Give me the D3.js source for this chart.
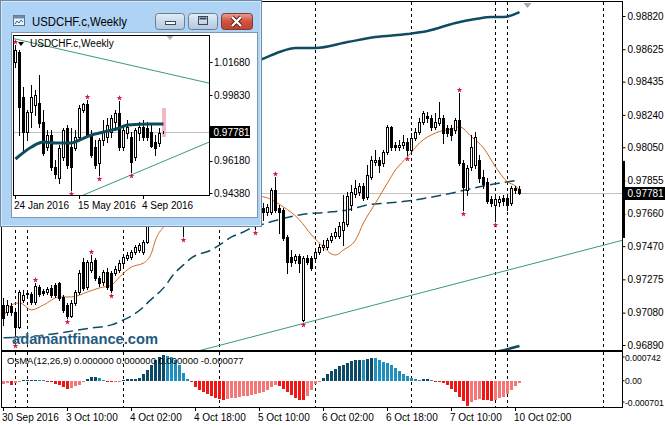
<!DOCTYPE html>
<html>
<head>
<meta charset="utf-8">
<script src="https://cdn.jsdelivr.net/npm/d3@7/dist/d3.min.js"></script>
<style>
html,body{margin:0;padding:0;background:#fff;}
svg{display:block;}
text{font-family:"Liberation Sans",Arial,sans-serif;}
</style>
</head>
<body>
<svg id="chart" width="665" height="425"></svg>
<script>
// ================= DATA : USDCHF.c H1 =================
const opens = [0.97125,0.97084,0.97119,0.97084,0.96996,0.97154,0.97190,0.97190,0.97143,0.97231,
0.97207,0.97201,0.97225,0.97242,0.97254,0.97172,0.97125,0.97061,0.97137,0.97201,
0.97377,0.97231,0.97330,0.97389,0.97283,0.97260,0.97319,0.97313,0.97313,0.97330,
0.97371,0.97401,0.97407,0.97436,0.97448,0.97436,0.97495,0.97624,0.97712,0.97770,
0.97741,0.97811,0.97858,0.97823,0.97741,0.97653,0.97712,0.97765,0.97800,0.97759,
0.97829,0.97870,0.97823,0.97770,0.97800,0.97847,0.97788,0.97741,0.97765,0.97712,
0.97671,0.97706,0.97659,0.97624,0.97671,0.97694,0.97671,0.97671,0.97800,0.97694,
0.97682,0.97524,0.97407,0.97389,0.97412,0.97037,0.97401,0.97401,0.97401,0.97436,
0.97465,0.97465,0.97506,0.97530,0.97530,0.97565,0.97600,0.97712,0.97776,0.97788,
0.97823,0.97759,0.97876,0.97964,0.97976,0.97958,0.98023,0.98169,0.98064,0.98052,
0.98064,0.98081,0.98034,0.98105,0.98140,0.98199,0.98234,0.98222,0.98169,0.98193,
0.98222,0.98163,0.98163,0.98152,0.98210,0.97958,0.97800,0.97935,0.97946,0.97976,
0.97876,0.97847,0.97747,0.97712,0.97729,0.97753,0.97753,0.97723,0.97811,0.97806];
const highs = [0.97166,0.97154,0.97137,0.97096,0.97213,0.97213,0.97213,0.97201,0.97254,0.97242,
0.97219,0.97231,0.97242,0.97254,0.97260,0.97184,0.97137,0.97154,0.97213,0.97330,
0.97401,0.97389,0.97418,0.97401,0.97295,0.97330,0.97342,0.97325,0.97354,0.97389,
0.97418,0.97436,0.97448,0.97477,0.97489,0.97506,0.97653,0.97741,0.97800,0.97811,
0.97829,0.97882,0.97888,0.97841,0.97753,0.97723,0.97776,0.97823,0.97829,0.97847,
0.97905,0.97888,0.97841,0.97823,0.97858,0.97864,0.97806,0.97782,0.97782,0.97729,
0.97723,0.97723,0.97682,0.97694,0.97718,0.97723,0.97718,0.97811,0.97876,0.97712,
0.97694,0.97536,0.97448,0.97424,0.97424,0.97412,0.97418,0.97412,0.97448,0.97483,
0.97506,0.97518,0.97547,0.97577,0.97612,0.97770,0.97788,0.97829,0.97858,0.97841,
0.97841,0.97946,0.97999,0.98034,0.97993,0.98034,0.98181,0.98175,0.98081,0.98093,
0.98122,0.98105,0.98134,0.98163,0.98222,0.98263,0.98257,0.98240,0.98251,0.98316,
0.98240,0.98181,0.98181,0.98222,0.98369,0.97976,0.97946,0.98122,0.98140,0.98005,
0.97917,0.97870,0.97765,0.97765,0.97765,0.97770,0.97765,0.97823,0.97823,0.97823];
const lows = [0.97008,0.97066,0.97066,0.96908,0.96990,0.97143,0.97172,0.97131,0.97131,0.97178,
0.97184,0.97190,0.97172,0.97172,0.97154,0.97084,0.97049,0.97055,0.97125,0.97190,
0.97213,0.97219,0.97319,0.97272,0.97236,0.97242,0.97219,0.97201,0.97301,0.97319,
0.97360,0.97389,0.97395,0.97424,0.97436,0.97424,0.97489,0.97612,0.97694,0.97723,
0.97729,0.97800,0.97800,0.97723,0.97624,0.97530,0.97694,0.97741,0.97747,0.97747,
0.97811,0.97800,0.97759,0.97753,0.97782,0.97770,0.97723,0.97718,0.97694,0.97653,
0.97647,0.97635,0.97606,0.97571,0.97659,0.97624,0.97653,0.97659,0.97671,0.97547,
0.97506,0.97313,0.97354,0.97371,0.97319,0.97031,0.97366,0.97330,0.97377,0.97424,
0.97448,0.97454,0.97495,0.97518,0.97518,0.97477,0.97588,0.97682,0.97759,0.97770,
0.97741,0.97747,0.97864,0.97946,0.97905,0.97940,0.98011,0.98034,0.98034,0.98034,
0.98046,0.98005,0.98023,0.98093,0.98128,0.98187,0.98199,0.98152,0.98158,0.98181,
0.98075,0.98116,0.98093,0.98134,0.97946,0.97682,0.97770,0.97917,0.97929,0.97847,
0.97811,0.97723,0.97706,0.97618,0.97706,0.97712,0.97682,0.97712,0.97782,0.97776];
const closes = [0.97049,0.97125,0.97084,0.96996,0.97201,0.97184,0.97195,0.97143,0.97236,0.97190,
0.97195,0.97219,0.97184,0.97184,0.97166,0.97096,0.97061,0.97137,0.97201,0.97313,
0.97225,0.97377,0.97377,0.97283,0.97254,0.97319,0.97231,0.97213,0.97336,0.97371,
0.97407,0.97418,0.97436,0.97465,0.97477,0.97495,0.97624,0.97712,0.97770,0.97741,
0.97811,0.97858,0.97823,0.97741,0.97653,0.97712,0.97765,0.97800,0.97759,0.97829,
0.97870,0.97823,0.97770,0.97800,0.97847,0.97788,0.97741,0.97765,0.97712,0.97671,
0.97706,0.97659,0.97624,0.97671,0.97694,0.97671,0.97700,0.97800,0.97682,0.97671,
0.97518,0.97377,0.97377,0.97412,0.97371,0.97401,0.97377,0.97342,0.97436,0.97465,
0.97477,0.97506,0.97530,0.97553,0.97588,0.97612,0.97765,0.97788,0.97811,0.97823,
0.97753,0.97888,0.97976,0.97976,0.97946,0.98023,0.98169,0.98052,0.98052,0.98064,
0.98081,0.98034,0.98105,0.98140,0.98199,0.98251,0.98222,0.98169,0.98199,0.98222,
0.98134,0.98134,0.98122,0.98210,0.97958,0.97817,0.97929,0.98052,0.98111,0.97870,
0.97835,0.97735,0.97723,0.97747,0.97747,0.97735,0.97712,0.97811,0.97800,0.97781];
const fractalsUp = [8,22,68,114];
const fractalsDown = [3,16,27,45,63,75,101,115,123];
// moving averages as [bar, price]
const maSlow = [[0,0.96932],[8,0.96943],[22,0.96990],[27,0.97008],[30,0.97037],[32,0.97061],[35,0.97113],[36,0.97137],[41,0.97254],[42,0.97289],[45,0.97360],[47,0.97401],[52,0.97448],[54,0.97477],[57,0.97524],[60,0.97553],[62,0.97577],[65,0.97600],[68,0.97620],[74,0.97653],[82,0.97671],[86,0.97682],[91,0.97712],[96,0.97723],[101,0.97735],[111,0.97776],[120,0.97823],[129,0.97858]];
const maFast = [[0,0.97055],[2,0.97125],[4,0.97137],[7,0.97096],[10,0.97125],[14,0.97172],[17,0.97172],[21,0.97201],[24,0.97225],[27,0.97242],[29,0.97289],[32,0.97348],[35,0.97371],[37,0.97430],[38,0.97506],[40,0.97583],[44,0.97682],[48,0.97729],[55,0.97753],[60,0.97765],[65,0.97759],[68,0.97729],[70,0.97700],[74,0.97624],[77,0.97536],[80,0.97465],[82,0.97424],[83,0.97418],[85,0.97448],[88,0.97506],[90,0.97606],[93,0.97723],[96,0.97841],[98,0.97917],[101,0.97993],[104,0.98075],[108,0.98134],[112,0.98158],[114,0.98169],[117,0.98111],[120,0.98046],[123,0.97935],[126,0.97847],[128,0.97823],[129,0.97800]];
const envelopeUpper = [[40,0.98480],[50,0.98520],[64,0.98562],[69,0.98609],[73,0.98632],[78,0.98632],[86,0.98667],[93,0.98697],[101,0.98714],[106,0.98732],[113,0.98779],[118,0.98802],[122,0.98814],[125,0.98814],[129,0.98843]];
const envelopeLower = [[115,0.96820],[125,0.96860],[129,0.96884]];
const trendLine = [[64,0.96949],[155,0.97506]];
const osma = [-0.000090,-0.000072,-0.000135,-0.000063,-0.000045,0.000009,0.000018,0.000027,0.000032,0.000018,
0.000009,-0.000018,-0.000045,-0.000090,-0.000135,-0.000180,-0.000225,-0.000198,-0.000162,-0.000108,
-0.000045,0.000045,0.000108,0.000117,0.000072,0.000027,-0.000018,-0.000036,-0.000027,-0.000009,
0.000018,0.000036,0.000045,0.000054,0.000090,0.000180,0.000315,0.000450,0.000585,0.000675,
0.000742,0.000711,0.000675,0.000585,0.000450,0.000225,0.000045,-0.000045,-0.000180,-0.000252,
-0.000315,-0.000378,-0.000432,-0.000495,-0.000522,-0.000540,-0.000522,-0.000500,-0.000480,-0.000460,
-0.000440,-0.000420,-0.000400,-0.000380,-0.000360,-0.000315,-0.000252,-0.000180,-0.000135,-0.000153,
-0.000225,-0.000315,-0.000405,-0.000495,-0.000540,-0.000558,-0.000432,-0.000270,-0.000090,-0.000027,
0.000090,0.000180,0.000270,0.000342,0.000405,0.000450,0.000495,0.000558,0.000585,0.000594,
0.000576,0.000612,0.000648,0.000630,0.000585,0.000540,0.000495,0.000432,0.000360,0.000270,
0.000198,0.000135,0.000072,0.000045,0.000027,0.000036,0.000054,0.000018,-0.000018,-0.000027,
-0.000072,-0.000135,-0.000225,-0.000315,-0.000450,-0.000585,-0.000701,-0.000612,-0.000558,-0.000522,
-0.000540,-0.000558,-0.000576,-0.000540,-0.000495,-0.000450,-0.000378,-0.000270,-0.000162,-0.000072];
const separators = [3,6,30,54,78,102,123,126,150];
const timeLabelBars = [0,16,32,48,64,80,96,112,128];
const timeLabels = ["30 Sep 2016","3 Oct 10:00","4 Oct 02:00","4 Oct 18:00","5 Oct 10:00","6 Oct 02:00","6 Oct 18:00","7 Oct 10:00","10 Oct 02:00"];
const priceTicks = [0.98820,0.98625,0.98435,0.98240,0.98050,0.97855,0.97660,0.97470,0.97275,0.97080,0.96890];
const lastPrice = 0.97781;
const lastBarRange = [0.97970,0.97518];
const osmaTicks = [0.000742,0,-0.000701];
const osmaTickLabels = ["0.000742","0.00","-0.000701"];
const osmaTitle = "OsMA(12,26,9) 0.000000 0.000000 0.000000 -0.000077";
const watermark = "adamantfinance.com";

// ================= DATA : weekly inset =================
const wTitle = "USDCHF.c,Weekly";
const wOpens = [1.01680,1.02237,0.99730,0.97779,0.98893,0.99284,0.99395,0.98336,0.96943,0.97612,0.95829,0.95216,0.96386,0.98002,0.96943,0.96888,0.97501,0.99005,0.99340,0.97612,0.96943,0.96052,0.97333,0.97501,0.97779,0.98336,0.98838,0.96943,0.97723,0.97501,0.96386,0.97723,0.98058,0.98002,0.97779,0.97222,0.97166,0.97800];
const wHighs = [1.02627,1.02349,1.00287,0.99005,1.00398,1.00120,1.00956,0.99005,0.97891,0.97891,0.96219,0.97055,0.98002,0.98169,0.98002,0.97891,0.99284,0.99395,0.99562,0.97891,0.97333,0.97445,0.98448,0.98559,0.98727,0.99005,0.99507,0.98169,0.98448,0.97779,0.98002,0.98336,0.98448,0.98336,0.98225,0.97612,0.98002,0.97850];
const wLows = [1.01401,0.97612,0.96776,0.97333,0.98058,0.98727,0.98058,0.96498,0.96776,0.95662,0.95216,0.94937,0.96219,0.95773,0.94547,0.96776,0.97333,0.98893,0.97501,0.96386,0.95773,0.95383,0.97055,0.97222,0.97501,0.97891,0.96776,0.96776,0.97445,0.95550,0.96219,0.97333,0.97333,0.97333,0.96943,0.96498,0.96999,0.97740];
const wCloses = [1.02349,0.99172,0.97779,0.98893,0.99730,0.99841,0.98281,0.96609,0.97612,0.95829,0.95439,0.96888,0.97891,0.95940,0.95829,0.97501,0.99117,0.99340,0.97612,0.96498,0.95940,0.97333,0.97779,0.98169,0.98559,0.98838,0.96943,0.97891,0.98058,0.96107,0.97891,0.98058,0.97501,0.97501,0.96999,0.96888,0.97723,0.97781];
const wMA = [[0,0.96275],[4,0.96943],[7,0.97222],[10,0.97166],[14,0.97166],[16,0.97333],[19,0.97612],[22,0.97779],[26,0.98002],[28,0.98169],[34,0.98225],[37,0.98225]];
const wTrendUpper = [[0,1.02962],[48,1.00521]];
const wTrendLower = [[17,0.94268],[48,0.97180]];
const wFractalsUp = [0,18,26];
const wFractalsDown = [14,21,29];
const wPriceTicks = [1.01680,0.99830,0.96180,0.94380];
const wDateBars = [0,16,32];
const wDateLabels = ["24 Jan 2016","15 May 2016","4 Sep 2016"];
const wRangeBox = [0.99117,0.97501];
const wLastPrice = 0.97781;

// ================= DRAWING =================
const svg = d3.select("#chart");
svg.append("rect").attr("width",665).attr("height",425).attr("fill","#fff");
const defs = svg.append("defs");
defs.append("clipPath").attr("id","mainClip").append("rect").attr("x",2).attr("y",2).attr("width",620).attr("height",348);
defs.append("clipPath").attr("id","insetClip").append("rect").attr("x",14).attr("y",36).attr("width",195).attr("height",159);

const x = d3.scaleLinear().domain([0,150]).range([3.5,603.5]);
const y = d3.scaleLinear().domain([0.96890,0.98820]).range([345,16]);
const yo = d3.scaleLinear().domain([-0.000701,0.000742]).range([405.5,354.5]);
const idx = d3.range(opens.length);

const BLUE = "#0f4c63", ORANGE = "#d2691e", GREEN = "#3a9d6e", FRACT = "#d4144a";

function drawCandles(g, xs, ys, O, H, L, C){
  const ii = d3.range(O.length);
  g.selectAll(null).data(ii).join("line")
    .attr("x1",i=>xs(i)).attr("x2",i=>xs(i))
    .attr("y1",i=>Math.round(ys(H[i]))).attr("y2",i=>Math.round(ys(L[i]))+1)
    .attr("stroke","#000").attr("stroke-width",1);
  g.selectAll(null).data(ii).join("rect")
    .attr("x",i=>xs(i)-1)
    .attr("y",i=>Math.round(ys(Math.max(O[i],C[i])))+0.5)
    .attr("width",2)
    .attr("height",i=>Math.max(0,Math.round(ys(Math.min(O[i],C[i])))-Math.round(ys(Math.max(O[i],C[i])))))
    .attr("fill",i=>C[i]>=O[i]?"#fff":"#000")
    .attr("stroke","#000").attr("stroke-width",1);
}
function drawFractals(g, xs, ys, up, down, H, L){
  const sym = d3.symbol().type(d3.symbolStar).size(10);
  g.selectAll(null).data(up).join("path").attr("d",sym)
    .attr("transform",i=>`translate(${xs(i)},${Math.round(ys(H[i]))-3})`).attr("fill",FRACT);
  g.selectAll(null).data(down).join("path").attr("d",sym)
    .attr("transform",i=>`translate(${xs(i)},${Math.round(ys(L[i]))+4})`).attr("fill",FRACT);
}
function extend(pts, a, b){
  const [i0,p0]=pts[0],[i1,p1]=pts[1];
  const f=i=>p0+(p1-p0)*(i-i0)/(i1-i0);
  return [[a,f(a)],[b,f(b)]];
}

// ---- main price panel ----
const gm = svg.append("g").attr("clip-path","url(#mainClip)");
gm.selectAll(null).data(separators).join("line")
  .attr("x1",d=>x(d)).attr("x2",d=>x(d)).attr("y1",2).attr("y2",350)
  .attr("stroke","#000").attr("stroke-dasharray","3,3");
gm.append("line").attr("x1",2).attr("x2",622)
  .attr("y1",Math.round(y(lastPrice))+0.5).attr("y2",Math.round(y(lastPrice))+0.5)
  .attr("stroke","#c0c0c0");
const lineGen = d3.line().x(d=>x(d[0])).y(d=>y(d[1]));
gm.append("path").attr("d",lineGen(extend(trendLine,-10,160))).attr("fill","none").attr("stroke",GREEN).attr("stroke-width",1);
const curveGen = d3.line().x(d=>x(d[0])).y(d=>y(d[1])).curve(d3.curveMonotoneX);
gm.append("path").attr("d",curveGen(envelopeUpper)).attr("fill","none").attr("stroke",BLUE).attr("stroke-width",2.5);
gm.append("path").attr("d",curveGen(envelopeLower)).attr("fill","none").attr("stroke",BLUE).attr("stroke-width",2.5);
gm.append("path").attr("d",curveGen(maSlow)).attr("fill","none").attr("stroke",BLUE).attr("stroke-width",1.5).attr("stroke-dasharray","10,5");
gm.append("path").attr("d",curveGen(maFast)).attr("fill","none").attr("stroke",ORANGE).attr("stroke-width",1);
drawCandles(gm, x, y, opens, highs, lows, closes);
drawFractals(gm, x, y, fractalsUp, fractalsDown, highs, lows);
gm.append("path").attr("d",`M${x(130)},3 L${x(130)+8},3 L${x(130)+4},8 Z`).attr("fill","#a9a9a9");
svg.append("text").attr("x",12).attr("y",344).text(watermark)
  .attr("font-size",15).attr("font-weight","bold").attr("fill","#1f5a80")
  .attr("stroke","#ffffff").attr("stroke-width",0.6).attr("paint-order","stroke")
  .attr("textLength",146).attr("lengthAdjust","spacingAndGlyphs");
svg.append("rect").attr("x",1.5).attr("y",1.5).attr("width",621).attr("height",349).attr("fill","none").attr("stroke","#000");

const ay = svg.append("g").attr("transform","translate(622.5,0)")
  .call(d3.axisRight(y).tickValues(priceTicks).tickFormat(d3.format(".5f")).tickSize(3).tickPadding(2));
ay.select(".domain").remove();
ay.selectAll("text").attr("font-size",10).attr("fill","#000").attr("font-family","'Liberation Sans',Arial,sans-serif");
ay.selectAll("line").attr("stroke","#000");
svg.append("rect").attr("x",622).attr("width",3)
  .attr("y",y(lastBarRange[0])).attr("height",y(lastBarRange[1])-y(lastBarRange[0])).attr("fill","#000");
const ly = Math.round(y(lastPrice));
svg.append("rect").attr("x",623).attr("y",ly-6).attr("width",42).attr("height",13).attr("fill","#000");
svg.append("text").attr("x",627.5).attr("y",ly+4).text(d3.format(".5f")(lastPrice)).attr("font-size",10).attr("fill","#fff");

// ---- OsMA panel ----
const go = svg.append("g");
go.selectAll(null).data(separators).join("line")
  .attr("x1",d=>x(d)).attr("x2",d=>x(d)).attr("y1",352).attr("y2",407)
  .attr("stroke","#000").attr("stroke-dasharray","3,3");
const oColor = (v,i)=>{
  const prev = i>0 ? osma[i-1] : v;
  if (v>=0) return v>=prev ? "#0d4a68" : "#1f8fbe";
  return v<prev ? "#f01616" : "#f47676";
};
go.selectAll(null).data(idx).join("rect")
  .attr("x",i=>x(i)-1.5).attr("width",3)
  .attr("y",i=>Math.round(yo(Math.max(0,osma[i]))))
  .attr("height",i=>Math.max(1,Math.round(yo(Math.min(0,osma[i])))-Math.round(yo(Math.max(0,osma[i])))))
  .attr("fill",i=>oColor(osma[i],i));
go.append("text").attr("x",7).attr("y",364).text(osmaTitle).attr("font-size",9.5).attr("fill","#000");
svg.append("rect").attr("x",1.5).attr("y",351.5).attr("width",621).attr("height",56).attr("fill","none").attr("stroke","#000");
svg.selectAll(null).data(osmaTicks).join("line")
  .attr("x1",622.5).attr("x2",624.5)
  .attr("y1",d=>Math.min(402,Math.max(357,yo(d)))).attr("y2",d=>Math.min(402,Math.max(357,yo(d))))
  .attr("stroke","#000");
svg.selectAll(null).data(osmaTicks).join("text")
  .attr("x",625).attr("y",d=>Math.min(402,Math.max(357,yo(d)))+3.5)
  .text((d,i)=>osmaTickLabels[i]).attr("font-size",8.6).attr("fill","#000");

// ---- time axis ----
svg.selectAll(null).data(timeLabelBars).join("line")
  .attr("x1",d=>x(d)).attr("x2",d=>x(d)).attr("y1",407.5).attr("y2",411)
  .attr("stroke","#000");
svg.selectAll(null).data(timeLabelBars).join("text")
  .attr("x",d=>x(d)-1.5).attr("y",421).text((d,i)=>timeLabels[i])
  .attr("font-size",10).attr("fill","#000");

// ================= INSET WINDOW =================
const gi = svg.append("g");
gi.append("rect").attr("x",0.5).attr("y",0.5).attr("width",261).attr("height",226)
  .attr("fill","#aed3f4").attr("stroke","#6f8aa6");
gi.append("rect").attr("x",1.5).attr("y",1.5).attr("width",259).attr("height",224)
  .attr("fill","none").attr("stroke","#d4e8fb");
gi.append("rect").attr("x",13.5).attr("y",15.5).attr("width",11).attr("height",10).attr("fill","#e8eef5").attr("stroke","#5b6f86");
gi.append("rect").attr("x",13.5).attr("y",15.5).attr("width",11).attr("height",3).attr("fill","#6f89a6");
gi.append("path").attr("d","M15,24 L17,21 L19,23 L21,20 L23,22").attr("fill","none").attr("stroke","#2a6f9e");
gi.append("text").attr("x",32).attr("y",26).text(wTitle).attr("font-size",12.5)
  .attr("font-family","'Open Sans','Noto Sans',sans-serif").attr("fill","#000")
  .attr("textLength",95).attr("lengthAdjust","spacingAndGlyphs");
const btnGrad = defs.append("linearGradient").attr("id","btnG").attr("x1",0).attr("x2",0).attr("y1",0).attr("y2",1);
btnGrad.append("stop").attr("offset","0").attr("stop-color","#e4edf6");
btnGrad.append("stop").attr("offset","0.5").attr("stop-color","#c9d9ea");
btnGrad.append("stop").attr("offset","1").attr("stop-color","#b4c8de");
const redGrad = defs.append("linearGradient").attr("id","redG").attr("x1",0).attr("x2",0).attr("y1",0).attr("y2",1);
redGrad.append("stop").attr("offset","0").attr("stop-color","#e8a092");
redGrad.append("stop").attr("offset","0.5").attr("stop-color","#d0533f");
redGrad.append("stop").attr("offset","1").attr("stop-color","#c24030");
gi.append("rect").attr("x",155.5).attr("y",13.5).attr("width",29).attr("height",16).attr("rx",3).attr("fill","url(#btnG)").attr("stroke","#6b7d90");
gi.append("rect").attr("x",165.5).attr("y",21.5).attr("width",10).attr("height",3).attr("fill","#fff").attr("stroke","#3a4a5c");
gi.append("rect").attr("x",188.5).attr("y",13.5).attr("width",29).attr("height",16).attr("rx",3).attr("fill","url(#btnG)").attr("stroke","#6b7d90");
gi.append("rect").attr("x",198.5).attr("y",16.5).attr("width",9).attr("height",8).attr("fill","none").attr("stroke","#3a4a5c").attr("stroke-width",1);
gi.append("rect").attr("x",199.5).attr("y",17.5).attr("width",7).attr("height",2).attr("fill","#3a4a5c");
gi.append("rect").attr("x",221.5).attr("y",13.5).attr("width",31).attr("height",16).attr("rx",3).attr("fill","url(#redG)").attr("stroke","#7b3b33");
gi.append("path").attr("d","M232,17 L241,26 M241,17 L232,26").attr("stroke","#4a1a14").attr("stroke-width",4);
gi.append("path").attr("d","M232,17 L241,26 M241,17 L232,26").attr("stroke","#fff").attr("stroke-width",2.4);
gi.append("rect").attr("x",11.5).attr("y",32.5).attr("width",246).attr("height",185).attr("fill","#fff").attr("stroke","#8097ae");

const xW = d3.scaleLinear().domain([0,48]).range([15.5,207.5]);
const yW = d3.scaleLinear().domain([0.94380,1.01680]).range([193,62]);
const gw = gi.append("g").attr("clip-path","url(#insetClip)");
gw.append("rect").attr("x",xW(37)-1.5).attr("width",4)
  .attr("y",yW(wRangeBox[0])).attr("height",yW(wRangeBox[1])-yW(wRangeBox[0])).attr("fill","#f6b6c3");
gw.append("line").attr("x1",14).attr("x2",209).attr("y1",Math.round(yW(wLastPrice))+0.5).attr("y2",Math.round(yW(wLastPrice))+0.5).attr("stroke","#c0c0c0");
const wLine = d3.line().x(d=>xW(d[0])).y(d=>yW(d[1]));
gw.append("path").attr("d",wLine(extend(wTrendUpper,-2,50))).attr("fill","none").attr("stroke",GREEN);
gw.append("path").attr("d",wLine(extend(wTrendLower,10,50))).attr("fill","none").attr("stroke",GREEN);
drawCandles(gw, xW, yW, wOpens, wHighs, wLows, wCloses);
gw.append("path").attr("d",d3.line().x(d=>xW(d[0])).y(d=>yW(d[1])).curve(d3.curveMonotoneX)(wMA))
  .attr("fill","none").attr("stroke","#0f4c5c").attr("stroke-width",3);
drawFractals(gw, xW, yW, wFractalsUp, wFractalsDown, wHighs, wLows);
gw.append("path").attr("d",`M${xW(38)-1},36 L${xW(38)+6},36 L${xW(38)+2.5},40 Z`).attr("fill","#b0b0b0");
gi.append("path").attr("d","M18,42 L24,42 L21,46 Z").attr("fill","#000");
gi.append("text").attr("x",30).attr("y",47).text(wTitle).attr("font-size",10).attr("fill","#000");
gi.append("rect").attr("x",13.5).attr("y",35.5).attr("width",196).attr("height",160).attr("fill","none").attr("stroke","#000");
gi.selectAll(null).data(wPriceTicks).join("line")
  .attr("x1",209.5).attr("x2",212.5).attr("y1",d=>Math.round(yW(d))+0.5).attr("y2",d=>Math.round(yW(d))+0.5).attr("stroke","#000");
gi.selectAll(null).data(wPriceTicks).join("text")
  .attr("x",214).attr("y",d=>yW(d)+3.5).text(d=>d3.format(".5f")(d)).attr("font-size",10).attr("fill","#000");
const wy = Math.round(yW(wLastPrice));
gi.append("rect").attr("x",210).attr("y",wy-6).attr("width",40).attr("height",12).attr("fill","#000");
gi.append("text").attr("x",213.5).attr("y",wy+4).text(d3.format(".5f")(wLastPrice)).attr("font-size",10).attr("fill","#fff");
gi.selectAll(null).data(wDateBars).join("line")
  .attr("x1",d=>xW(d)).attr("x2",d=>xW(d)).attr("y1",195.5).attr("y2",199).attr("stroke","#000");
gi.selectAll(null).data(wDateBars).join("text")
  .attr("x",d=>xW(d)-1.5).attr("y",209).text((d,i)=>wDateLabels[i]).attr("font-size",10).attr("fill","#000");
</script>
</body>
</html>
